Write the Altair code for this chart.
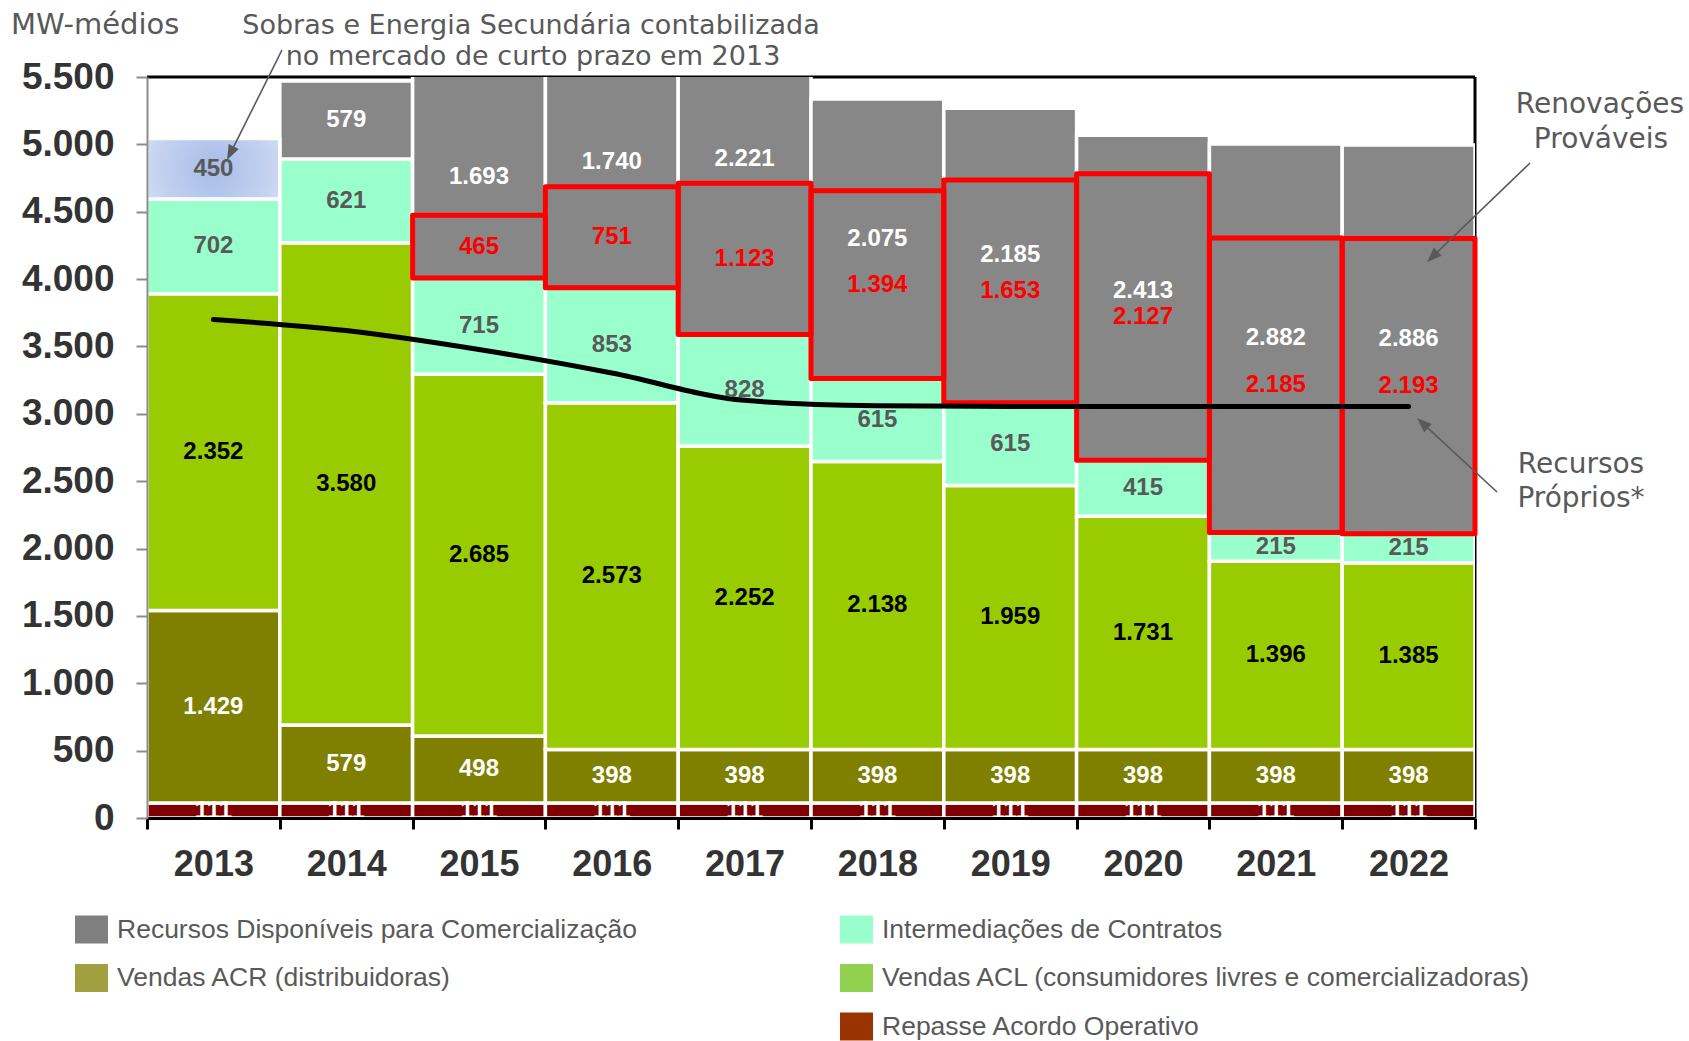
import math
import altair as alt
import pandas as pd

# ---------------- data (MW-médios) ----------------
years = [2013, 2014, 2015, 2016, 2017, 2018, 2019, 2020, 2021, 2022]
repasse = [111, 111, 111, 111, 111, 111, 111, 111, 111, 111]
vendas_acr = [1429, 579, 498, 398, 398, 398, 398, 398, 398, 398]
vendas_acl = [2352, 3580, 2685, 2573, 2252, 2138, 1959, 1731, 1396, 1385]
intermediacoes = [702, 621, 715, 853, 828, 615, 615, 415, 215, 215]
sobras = [450, 0, 0, 0, 0, 0, 0, 0, 0, 0]
disponiveis = [0, 579, 1693, 1740, 2221, 2075, 2185, 2413, 2882, 2886]
renovacoes = [0, 0, 465, 751, 1123, 1394, 1653, 2127, 2185, 2193]
recursos_proprios = [3700, 3618, 3477, 3303, 3100, 3060, 3055, 3055, 3055, 3055]

legend1_labels = ["Recursos Disponíveis para Comercialização", "Vendas ACR (distribuidoras)"]
legend1_colors = ["#808080", "#A0A040"]
legend2_labels = ["Intermediações de Contratos",
                  "Vendas ACL (consumidores livres e comercializadoras)",
                  "Repasse Acordo Operativo"]
legend2_colors = ["#99FFCC", "#92D050", "#993300"]

y_ticks = [0, 500, 1000, 1500, 2000, 2500, 3000, 3500, 4000, 4500, 5000, 5500]
YMAX = 5500

# ---------------- layout ----------------
W, H = 1328, 741
PAD = {"left": 147, "top": 77, "right": 1689 - 147 - W, "bottom": 1041 - 77 - H}
ANN = "#595959"


def fmt(v):
    return f"{v:,}".replace(",", ".")


series_spec = [
    ("repasse", repasse, "#800000", "#FFFFFF"),
    ("acr", vendas_acr, "#808000", "#FFFFFF"),
    ("acl", vendas_acl, "#99CC00", "#000000"),
    ("inter", intermediacoes, "#99FFCC", "#595959"),
    ("sobras", sobras, "gradient", "#595959"),
    ("disp", disponiveis, "#878787", "#FFFFFF"),
]

seg_rows, sob_rows, lab_rows, box_rows = [], [], [], []
for i, yr in enumerate(years):
    base = 0
    for name, vals, fc, lc in series_spec:
        v = vals[i]
        if v <= 0:
            continue
        start, end = base, base + v
        if name == "sobras":
            sob_rows.append(dict(year=str(yr), start=start, end=end))
        else:
            seg_rows.append(dict(year=str(yr), start=start, end=end, fillc=fc))
        ly = (start + end) / 2
        if name == "disp":
            ly = (start + min(end, YMAX)) / 2
            r = renovacoes[i]
            if r > 0:
                rmid = start + r / 2
                rtop = start + r
                box_rows.append(dict(year=str(yr), start=start, end=rtop,
                                     ly=rmid, lbl=fmt(r)))
                # keep the white label clear of the red frame and the red label
                if abs(ly - rtop) < 200:
                    ly = rtop + 180
                elif abs(ly - rmid) < 250:
                    ly = rmid + 190
        lab_rows.append(dict(year=str(yr), ly=ly, lbl=fmt(v), lc=lc))
        base = end

seg_df = pd.DataFrame(seg_rows)
sob_df = pd.DataFrame(sob_rows)
lab_df = pd.DataFrame(lab_rows)
box_df = pd.DataFrame(box_rows)
line_df = pd.DataFrame({"year": [str(y) for y in years], "val": recursos_proprios})

xscale = alt.Scale(paddingInner=0, paddingOuter=0)
yscale = alt.Scale(domain=[0, YMAX], nice=False)

x_axis = alt.Axis(
    title=None, labelAngle=0, labelFont="Liberation Sans", labelFontSize=36,
    labelFontWeight="bold", labelColor="#333333", labelBaseline="alphabetic",
    labelPadding=46, domainColor="black", domainWidth=3, tickColor="black",
    tickWidth=3, tickSize=11, tickBand="extent", zindex=1,
)
y_axis = alt.Axis(
    title=None, values=y_ticks, format=",.0f", labelFont="Liberation Sans",
    labelFontSize=37, labelFontWeight="bold", labelColor="#333333", labelPadding=22,
    domainColor="#8C8C8C", domainWidth=2, tickColor="#8C8C8C", tickWidth=2,
    tickSize=11, grid=False, zindex=1,
)


def X():
    return alt.X("year:O", scale=xscale, axis=x_axis)


def Y(field):
    return alt.Y(field, scale=yscale, axis=y_axis)


one = alt.Data(values=[{}])

frame_top = alt.Chart(one).mark_rule(color="black", strokeWidth=3).encode(
    x=alt.value(0), x2=alt.value(W), y=alt.value(0))
frame_right = alt.Chart(one).mark_rule(color="black", strokeWidth=3).encode(
    x=alt.value(W), y=alt.value(0), y2=alt.value(H))

bars = alt.Chart(seg_df).mark_bar(stroke="white", strokeWidth=3.5, clip=True).encode(
    x=X(), y=Y("start:Q"), y2="end:Q",
    fill=alt.Fill("fillc:N", scale=None),
)

grad = alt.RadialGradient(
    gradient="radial",
    stops=[alt.GradientStop(color="#A6BCE8", offset=0),
           alt.GradientStop(color="#C4D2F0", offset=0.55),
           alt.GradientStop(color="#E2E9F7", offset=1)],
    x1=0.5, y1=0.5, r1=0, x2=0.5, y2=0.5, r2=0.75,
)
sob_bar = alt.Chart(sob_df).mark_bar(fill=grad, stroke="white", strokeWidth=3.5).encode(
    x=X(), y=Y("start:Q"), y2="end:Q",
)

boxes = alt.Chart(box_df).mark_bar(fillOpacity=0, stroke="#FF0000", strokeWidth=5,
                                   strokeJoin="round").encode(
    x=X(), y=Y("start:Q"), y2="end:Q",
)

line = alt.Chart(line_df).mark_line(color="black", strokeWidth=5, interpolate="monotone",
                                    strokeCap="round").encode(
    x=X(), y=Y("val:Q"),
)

labels = alt.Chart(lab_df).mark_text(font="Liberation Sans", fontWeight="bold",
                                     fontSize=24, baseline="middle").encode(
    x=X(), y=Y("ly:Q"), text="lbl:N",
    fill=alt.Fill("lc:N", scale=None),
)

box_labels = alt.Chart(box_df).mark_text(font="Liberation Sans", fontWeight="bold",
                                         fontSize=24, baseline="middle",
                                         color="#FF0000").encode(
    x=X(), y=Y("ly:Q"), text="lbl:N",
)


def txt(s, x, y, align="center", size=27):
    return alt.Chart(one).mark_text(
        text=s, font="DejaVu Sans", fontSize=size, color=ANN, align=align,
        baseline="alphabetic").encode(x=alt.value(x), y=alt.value(y))


def arrow(x1, y1, x2, y2):
    dx, dy = x2 - x1, y2 - y1
    L = math.hypot(dx, dy)
    ux, uy = dx / L, dy / L
    ang = math.degrees(math.atan2(dx, -dy)) % 360
    head = 7.5
    cx, cy = x2 - ux * head, y2 - uy * head
    shaft = alt.Chart(one).mark_rule(color=ANN, strokeWidth=1.6).encode(
        x=alt.value(x1), y=alt.value(y1),
        x2=alt.value(x2 - ux * head), y2=alt.value(y2 - uy * head))
    tip = alt.Chart(one).mark_point(shape="M0,-1L0.75,1L-0.75,1Z", filled=True, size=225,
                                    angle=ang, color=ANN, opacity=1).encode(
        x=alt.value(cx), y=alt.value(cy))
    return [shaft, tip]


annotations = [
    txt("MW-médios", -136, -43, align="left", size=29),
    txt("Sobras e Energia Secundária contabilizada", 384, -43),
    txt("no mercado de curto prazo em 2013", 386, -12),
    txt("Renovações", 1453, 36, size=28),
    txt("Prováveis", 1454, 71, size=28),
    txt("Recursos", 1434, 396, size=28),
    txt("Próprios*", 1434, 430, size=28),
] + arrow(135, -27, 80, 83) + arrow(1383, 86, 1280, 185) + arrow(1350, 415, 1270, 341)

sym = "M-1,-0.85H1V0.85H-1Z"


def legend_layer(labels_, colors_, lx):
    df = pd.DataFrame({"item": labels_})
    return alt.Chart(df).mark_square(opacity=0, size=1).encode(
        color=alt.Color("item:N", sort=labels_,
                        scale=alt.Scale(domain=labels_, range=colors_),
                        legend=alt.Legend(
                            title=None, orient="none", legendX=lx, legendY=836,
                            direction="vertical", symbolType=sym, symbolSize=1089,
                            symbolOpacity=1, symbolStrokeWidth=0,
                            labelFont="Liberation Sans", labelFontSize=26.5,
                            labelColor=ANN, labelOffset=9, labelLimit=1000,
                            rowPadding=17.5, padding=0)))


leg1 = legend_layer(legend1_labels, legend1_colors, -72)
leg2 = legend_layer(legend2_labels, legend2_colors, 693)

chart = alt.layer(
    frame_top, frame_right, bars, sob_bar, boxes, line, labels, box_labels,
    *annotations, leg1, leg2,
).resolve_scale(color="independent").resolve_legend(color="independent").properties(
    width=W, height=H,
    autosize=alt.AutoSizeParams(type="none"),
    padding=PAD,
    background="white",
).configure(
    locale={"number": {"decimal": ",", "thousands": ".", "grouping": [3],
                       "currency": ["R$", ""]}}
).configure_view(strokeWidth=0)

chart.save("out.html", embed_options={"renderer": "svg", "actions": False})
